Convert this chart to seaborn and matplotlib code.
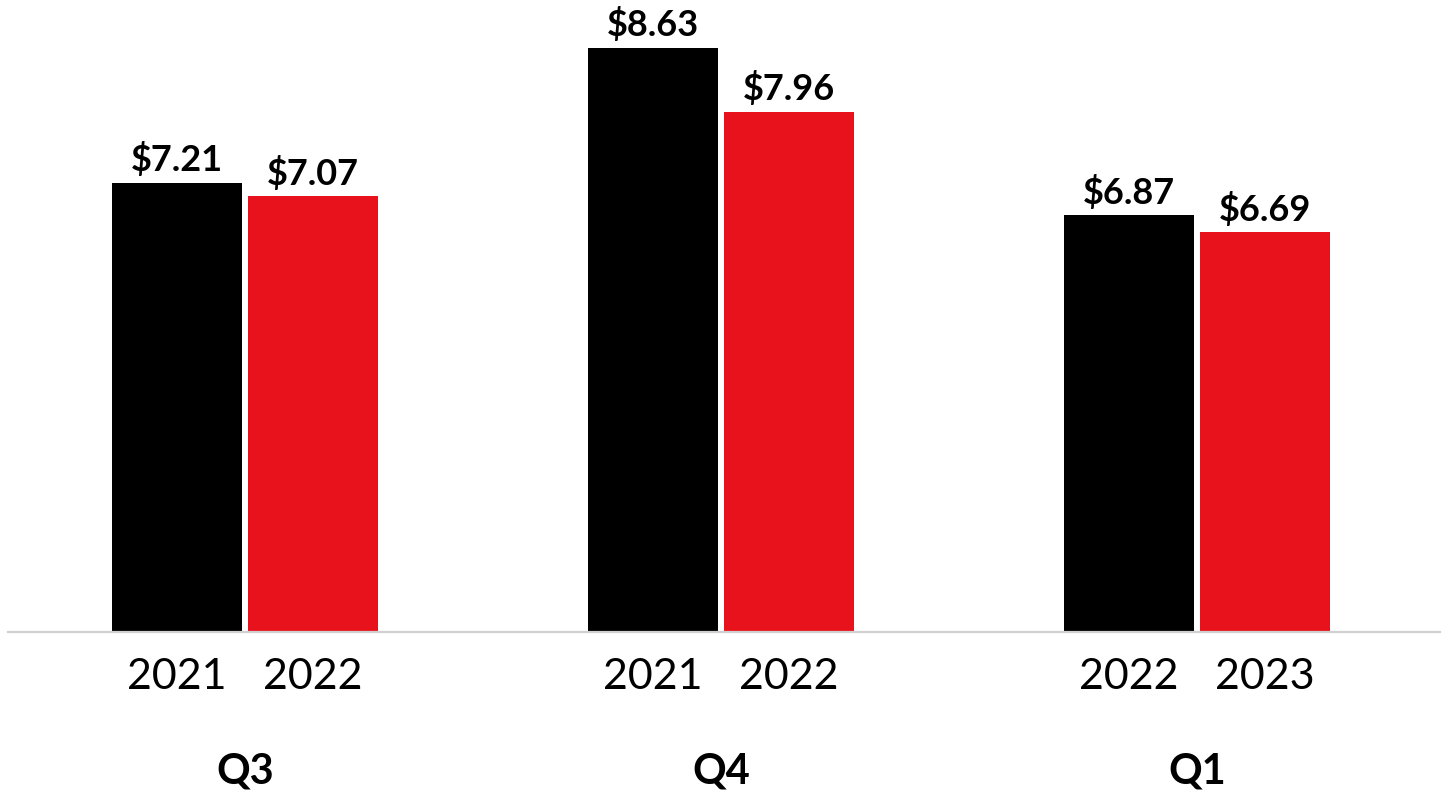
import matplotlib
matplotlib.use("Agg")
import matplotlib.pyplot as plt
import matplotlib.transforms as mtransforms
import seaborn as sns
import pandas as pd

quarters = ["Q3", "Q4", "Q1"]
prior_labels = ["2021", "2021", "2022"]
current_labels = ["2022", "2022", "2023"]
prior_values = [7.21, 8.63, 6.87]
current_values = [7.07, 7.96, 6.69]

sns.set_theme(style="white")
plt.rcParams["font.family"] = ["Lato", "DejaVu Sans"]

df = pd.DataFrame({
    "quarter": quarters * 2,
    "series": ["prior"] * 3 + ["current"] * 3,
    "value": prior_values + current_values,
    "year": prior_labels + current_labels,
})

fig = plt.figure(figsize=(14.48, 7.95), dpi=100)
ax = fig.add_axes([8 / 1448, 163 / 795, 1432 / 1448, 632 / 795])

sns.barplot(data=df, x="quarter", y="value", hue="series", order=quarters,
            hue_order=["prior", "current"], palette=["#000000", "#E8121C"],
            width=0.571, gap=0.044, saturation=1, legend=False, ax=ax,
            linewidth=0)

ax.set_ylim(2.48, 9.135)
ax.set_xlim(-0.498, 2.51)
for s in ["left", "right", "top"]:
    ax.spines[s].set_visible(False)
ax.spines["bottom"].set_color("#D0D0D0")
ax.spines["bottom"].set_linewidth(1.6)
ax.set_yticks([])
ax.set_xlabel("")
ax.set_ylabel("")
ax.tick_params(axis="x", length=0, pad=87)
ax.set_xticks(range(len(quarters)))
ax.set_xticklabels(quarters, fontsize=30, fontweight="bold", color="black")

trans = mtransforms.blended_transform_factory(ax.transData, ax.transAxes)
year_y = 1 - 677 / 632  # axes coords
bars = [p for p in ax.patches if p.get_height() > 0]
bars_sorted = sorted(bars, key=lambda p: p.get_x())
year_order = []
for i in range(len(quarters)):
    year_order += [prior_labels[i], current_labels[i]]
val_order = []
for i in range(len(quarters)):
    val_order += [prior_values[i], current_values[i]]
for p, yr, v in zip(bars_sorted, year_order, val_order):
    cx = p.get_x() + p.get_width() / 2
    ax.text(cx, year_y, yr, transform=trans, ha="center", va="center",
            fontsize=31, color="black")
    ax.annotate(f"${v:.2f}", (cx, p.get_height()), xytext=(0, 4),
                textcoords="offset points", ha="center", va="bottom",
                fontsize=26, fontweight="bold", color="black",
                annotation_clip=False)

fig.savefig("out.png", dpi=100, facecolor="white")
